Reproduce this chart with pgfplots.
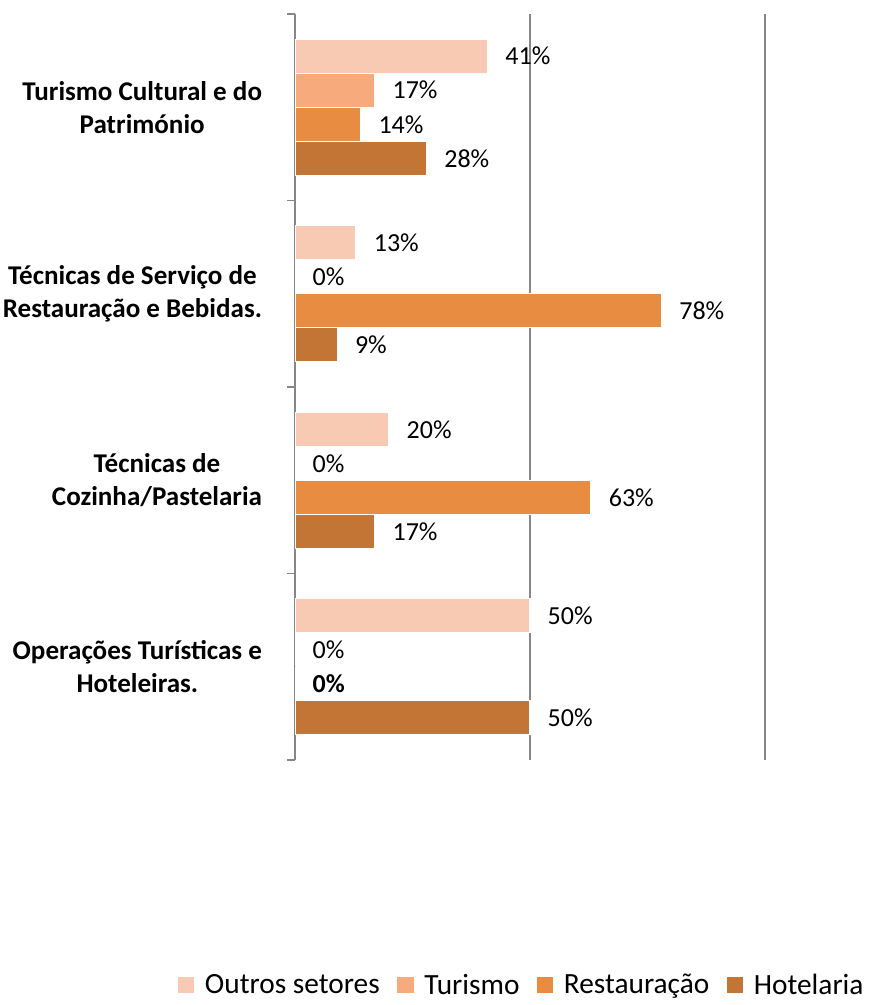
\documentclass[border=0pt]{standalone}
\usepackage{pgfplots}
\pgfplotsset{compat=1.18}
\usepackage{fontspec}
\setmainfont{Carlito}
\definecolor{cOut}{RGB}{249,202,179}
\definecolor{cTur}{RGB}{247,170,123}
\definecolor{cRes}{RGB}{232,140,66}
\definecolor{cHot}{RGB}{195,117,54}
\definecolor{gridgray}{RGB}{134,134,134}
\begin{document}
\begin{tikzpicture}
\path[use as bounding box] (0,0) rectangle (651pt,753.75pt);
\begin{axis}[
  at={(221.25pt,183.75pt)}, anchor=south west,
  scale only axis, width=352.5pt, height=559.5pt,
  xmin=0, xmax=100, ymin=-0.5, ymax=3.5,
  xbar, bar width=25.5pt,
  axis line style={draw=none},
  xtick={0,50,100}, xticklabels={}, xmajorgrids,
  grid style={gridgray, line width=1.1pt},
  major x tick style={draw=none},
  ytick={0,1,2,3},
  yticklabels={{Operações Turísticas e\\Hoteleiras.},{Técnicas de\\Cozinha/Pastelaria},{Técnicas de Serviço de\\Restauração e Bebidas.},{Turismo Cultural e do\\Património}},
  yticklabel style={align=center, anchor=east, inner sep=0pt, xshift=-20.25pt, font=\fontsize{20.3}{24.8}\selectfont\bfseries},
  major y tick style={draw=none},
  minor ytick={-0.5,0.5,1.5,2.5,3.5},
  minor y tick style={gridgray, line width=1.1pt},
  minor tick length=6pt,
  tick align=outside, ytick pos=left,
  point meta=explicit symbolic,
  nodes near coords,
  every node near coord/.append style={anchor=west, inner sep=0pt, xshift=12.75pt, font=\fontsize{19.5}{23}\selectfont, text=black},
  legend columns=4,
  legend style={at={(rel axis cs:0.483,-0.3016)}, anchor=center, draw=none, fill=none, inner sep=0pt,
    font=\fontsize{22}{26}\selectfont,
    /tikz/every odd column/.append style={column sep=6pt},
    /tikz/every even column/.append style={column sep=11pt}},
  legend cell align=left,
]
\addplot[fill=cOut, draw=white, line width=1.1pt, bar shift=38.25pt,
  legend image code/.code={\fill[cOut] (0pt,-5.6pt) rectangle (11.25pt,5.6pt);}]
  coordinates {(41,3) [41\%] (13,2) [13\%] (20,1) [20\%] (50,0) [50\%]};
\addplot[fill=cTur, draw=white, line width=1.1pt, bar shift=12.75pt,
  legend image code/.code={\fill[cTur] (0pt,-5.6pt) rectangle (11.25pt,5.6pt);}]
  coordinates {(17,3) [17\%] (0,2) [0\%] (0,1) [0\%] (0,0) [0\%]};
\addplot[fill=cRes, draw=white, line width=1.1pt, bar shift=-12.75pt,
  legend image code/.code={\fill[cRes] (0pt,-5.6pt) rectangle (11.25pt,5.6pt);}]
  coordinates {(14,3) [14\%] (78,2) [78\%] (63,1) [63\%] (0,0) [\textbf{0\%}]};
\addplot[fill=cHot, draw=white, line width=1.1pt, bar shift=-38.25pt,
  legend image code/.code={\fill[cHot] (0pt,-5.6pt) rectangle (11.25pt,5.6pt);}]
  coordinates {(28,3) [28\%] (9,2) [9\%] (17,1) [17\%] (50,0) [50\%]};
\legend{Outros setores, Turismo, Restauração, Hotelaria}
\end{axis}
\end{tikzpicture}
\end{document}
